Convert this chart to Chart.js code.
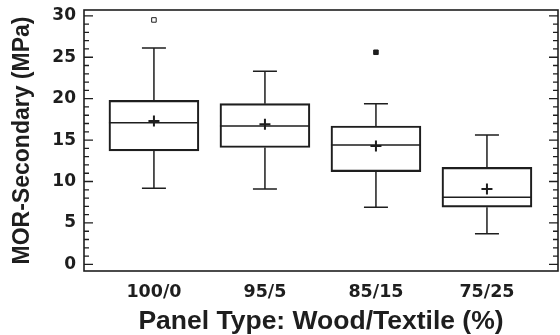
<!DOCTYPE html>
<html>
<head>
<meta charset="utf-8">
<script src="https://cdn.jsdelivr.net/npm/chart.js@4"></script>
<style>
  html, body { margin: 0; padding: 0; background: #fff; }
</style>
</head>
<body>
<canvas id="chart" width="560" height="335"></canvas>
<script>
"use strict";

// box plot values (MPa)
const categories = ["100/0", "95/5", "85/15", "75/25"];
const whiskerLow = [9.2, 9.1, 6.9, 3.7];
const q1 = [13.7, 14.1, 11.2, 6.9];
const median = [17.1, 16.7, 14.4, 8.1];
const q3 = [19.8, 19.4, 16.7, 11.7];
const whiskerHigh = [26.1, 23.3, 19.4, 15.6];
const means = [17.3, 16.9, 14.3, 9.1];
// outliers: category number, value, kind (far = open, near = filled)
const outlierCat = [1, 3];
const outlierVal = [29.5, 25.6];
const outlierKind = ["far", "near"];
const yTicks = [0, 5, 10, 15, 20, 25, 30];

const INK = "#1e1e1e";

// whiskers, caps, medians, the frame and the inner tick marks
const boxParts = {
    id: "boxParts",
    afterDatasetsDraw(chart) {
        const { ctx, chartArea: a, scales: { x, y } } = chart;
        const boxes = chart.getDatasetMeta(0).data;
        ctx.save();
        ctx.strokeStyle = INK;
        ctx.lineWidth = 1.5;
        ctx.beginPath();
        categories.forEach((c, i) => {
            const cx = x.getPixelForValue(i + 1);
            const half = boxes[i].width / 2;
            // whiskers
            ctx.moveTo(cx, y.getPixelForValue(q1[i]));
            ctx.lineTo(cx, y.getPixelForValue(whiskerLow[i]));
            ctx.moveTo(cx, y.getPixelForValue(q3[i]));
            ctx.lineTo(cx, y.getPixelForValue(whiskerHigh[i]));
            // caps
            [whiskerLow[i], whiskerHigh[i]].forEach(v => {
                const py = y.getPixelForValue(v);
                ctx.moveTo(cx - 12, py);
                ctx.lineTo(cx + 12, py);
            });
            // median
            const pm = y.getPixelForValue(median[i]);
            ctx.moveTo(cx - half, pm);
            ctx.lineTo(cx + half, pm);
        });
        ctx.stroke();

        // frame
        ctx.lineWidth = 1.6;
        ctx.strokeRect(a.left, a.top, a.right - a.left, a.bottom - a.top);

        // inward ticks on left and right sides, every unit, long every 5
        ctx.lineWidth = 1.3;
        ctx.beginPath();
        for (let v = yTicks[0]; v <= yTicks[yTicks.length - 1]; v++) {
            const py = y.getPixelForValue(v);
            const len = v % 5 === 0 ? 9 : 5;
            ctx.moveTo(a.left, py);
            ctx.lineTo(a.left + len, py);
            ctx.moveTo(a.right, py);
            ctx.lineTo(a.right - len, py);
        }
        ctx.stroke();
        ctx.restore();
    }
};

new Chart(document.getElementById("chart"), {
    data: {
        datasets: [{
            type: "bar",
            label: "Box",
            data: categories.map((c, i) => ({ x: i + 1, y: [q1[i], q3[i]] })),
            backgroundColor: "rgba(255,255,255,0)",
            borderColor: INK,
            borderWidth: 1.5,
            borderSkipped: false,
            barThickness: 90
        }, {
            type: "scatter",
            label: "Mean",
            data: categories.map((c, i) => ({ x: i + 1, y: means[i] })),
            pointStyle: "cross",
            radius: 5.5,
            borderWidth: 2,
            borderColor: INK
        }, {
            type: "scatter",
            label: "Outliers",
            data: outlierCat.map((c, i) => ({ x: c, y: outlierVal[i] })),
            pointStyle: "rect",
            radius: 3.2,
            borderWidth: 1,
            borderColor: INK,
            backgroundColor: outlierKind.map(k => k === "far" ? "#fff" : INK)
        }]
    },
    options: {
        responsive: false,
        animation: false,
        devicePixelRatio: 1,
        layout: { autoPadding: false, padding: { left: 0, right: 2, top: 10, bottom: 0 } },
        plugins: { legend: { display: false }, tooltip: { enabled: false } },
        scales: {
            x: {
                type: "linear",
                offset: false,
                min: 0.37,
                max: 4.64,
                grid: { display: false, drawTicks: false },
                border: { display: false },
                afterBuildTicks: s => { s.ticks = categories.map((c, i) => ({ value: i + 1 })); },
                afterFit: s => { s.height = 64; s.paddingRight = 0; s.paddingLeft = 0; },
                ticks: {
                    callback: v => categories[v - 1],
                    color: INK,
                    padding: 11,
                    maxRotation: 0,
                    font: { family: "DejaVu Sans", weight: "bold", size: 17.5 }
                },
                title: {
                    display: true,
                    text: "Panel Type: Wood/Textile (%)",
                    color: INK,
                    padding: 0,
                    font: { family: "Liberation Sans", weight: "bold", size: 26.5, lineHeight: 1 }
                }
            },
            y: {
                type: "linear",
                min: -0.8,
                max: 30.7,
                grid: { display: false, drawTicks: false },
                border: { display: false },
                afterBuildTicks: s => { s.ticks = yTicks.map(v => ({ value: v })); },
                afterFit: s => { s.width = 84; s.paddingTop = 0; s.paddingBottom = 0; },
                ticks: {
                    color: INK,
                    padding: 8,
                    font: { family: "DejaVu Sans", weight: "bold", size: 17 }
                },
                title: {
                    display: true,
                    text: "MOR-Secondary (MPa)",
                    color: INK,
                    padding: { top: 11, bottom: 0 },
                    font: { family: "Liberation Sans", weight: "bold", size: 23, lineHeight: 1 }
                }
            }
        }
    },
    plugins: [boxParts]
});
</script>
</body>
</html>
